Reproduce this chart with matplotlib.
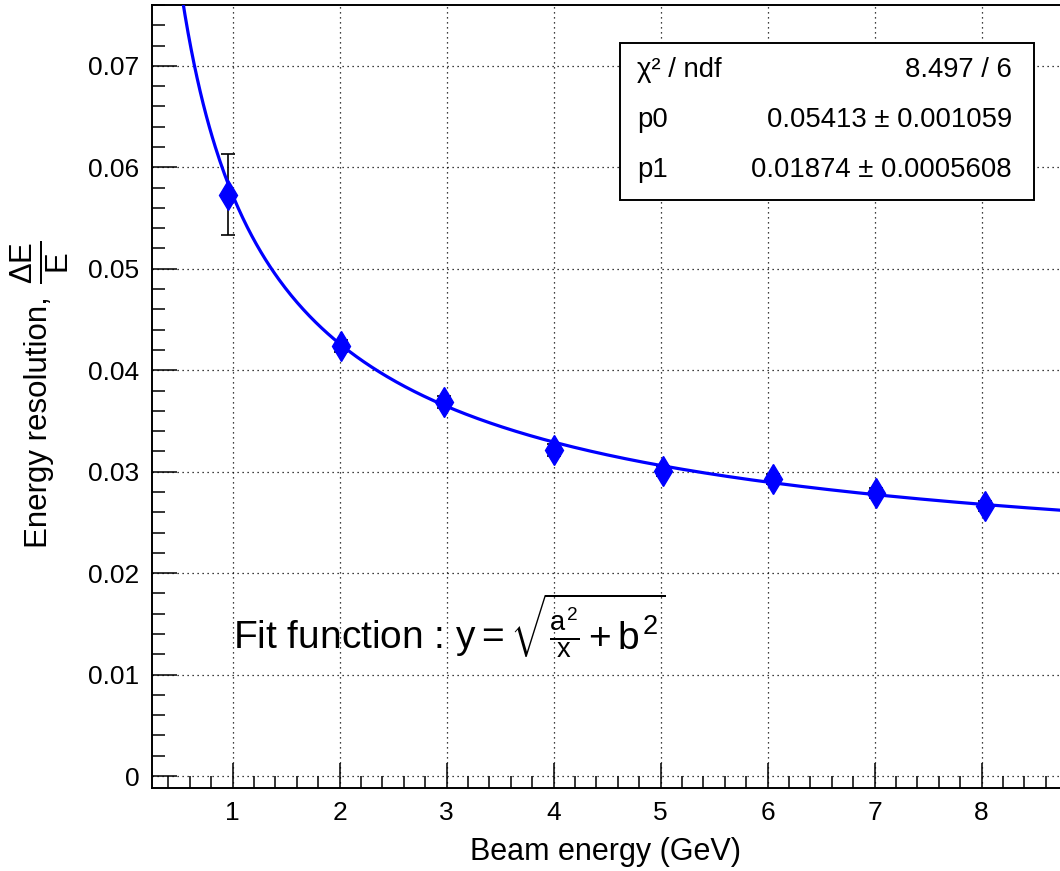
import numpy as np
import matplotlib
matplotlib.use("Agg")
import matplotlib.pyplot as plt
from matplotlib.patches import Rectangle
from matplotlib.ticker import MultipleLocator

plt.rcParams['font.family'] = ['Liberation Sans', 'DejaVu Sans']
plt.rcParams['mathtext.fontset'] = 'custom'
plt.rcParams['mathtext.rm'] = 'Liberation Sans'
plt.rcParams['mathtext.it'] = 'Liberation Sans'
plt.rcParams['mathtext.bf'] = 'Liberation Sans:bold'

# Datos medidos
energia = [0.96, 2.01, 2.98, 4.00, 5.02, 6.05, 7.01, 8.03]
resolucion = [0.0573, 0.0424, 0.0369, 0.0321, 0.0301, 0.0293, 0.0279, 0.0266]
error_res = [0.0040, 0.0006, 0.0006, 0.0006, 0.0005, 0.0005, 0.0005, 0.0005]

# Parametros del ajuste
p0 = 0.05413
p1 = 0.01874
p0_err = 0.001059
p1_err = 0.0005608
chi2 = 8.497
ndf = 6

fig = plt.figure(figsize=(10.6, 8.71), dpi=100)
ax = fig.add_axes([152/1060, 83/871, 908/1060, 783/871])

ax.set_xlim(0.247, 8.733)
ax.set_ylim(-0.00118, 0.0760)

# Curva del ajuste
x_fit = np.linspace(0.3, 8.8, 600)
y_fit = np.sqrt(p0**2 / x_fit + p1**2)
ax.plot(x_fit, y_fit, color='#0000ff', lw=2.3, zorder=3)

ax.errorbar(energia, resolucion, yerr=error_res, fmt='none', ecolor='black',
            elinewidth=1.2, capsize=5, capthick=1.2, zorder=2)
ax.plot(energia, resolucion, 'd', color='#0000ff', markersize=15, zorder=4)

# Ejes estilo ROOT
ax.xaxis.set_major_locator(MultipleLocator(1))
ax.xaxis.set_minor_locator(MultipleLocator(0.2))
ax.yaxis.set_minor_locator(MultipleLocator(0.002))
ax.set_yticks([0, 0.01, 0.02, 0.03, 0.04, 0.05, 0.06, 0.07])
ax.set_yticklabels(['0', '0.01', '0.02', '0.03', '0.04', '0.05', '0.06', '0.07'])
ax.tick_params(which='both', direction='in', top=False, right=False, width=1.1)
ax.tick_params(which='major', length=18, labelsize=19, pad=9)
ax.tick_params(which='minor', length=9)
ax.spines['right'].set_visible(False)
for s in ['left', 'bottom', 'top']:
    ax.spines[s].set_linewidth(1.4)

ax.grid(True, which='major', color='black', linestyle=(0, (1, 3)), lw=0.9)

ax.set_xlabel('Beam energy (GeV)', fontsize=22)
ax.xaxis.set_label_coords(0.499, -0.063)

# Titulo del eje y en dos partes (texto + fraccion a tamaño completo)
fig.text(39/1060, 1 - 548/871, 'Energy resolution,', fontsize=22.5, rotation=90,
         ha='center', va='bottom')
fig.text(40/1060, 1 - 284/871, r'$\frac{\Delta E}{E}$', fontsize=32, rotation=90,
         ha='center', va='bottom')

ax.text(1.0, 0.0148, r'Fit function : $y = \sqrt{\frac{a^2}{x} + b^2}$',
        fontsize=28, va='center', ha='left', zorder=5)

# Caja de estadisticas
caja = Rectangle((620/1060, 1 - 200/871), 414/1060, 157/871, transform=fig.transFigure,
                 facecolor='white', edgecolor='black', lw=1.4, zorder=6, clip_on=False)
ax.add_patch(caja)
filas = [('χ² / ndf', f'{chi2} / {ndf}'),
         ('p0', f'{p0} ± {p0_err}'),
         ('p1', f'{p1} ± {p1_err}')]
ys = [1 - 70/871, 1 - 120/871, 1 - 170/871]
for (izq, der), yy in zip(filas, ys):
    fig.text(637/1060, yy, izq, fontsize=19.8, ha='left', va='center', zorder=7)
    fig.text(1012/1060, yy, der, fontsize=19.8, ha='right', va='center', zorder=7)

fig.savefig('out.png', dpi=100)
